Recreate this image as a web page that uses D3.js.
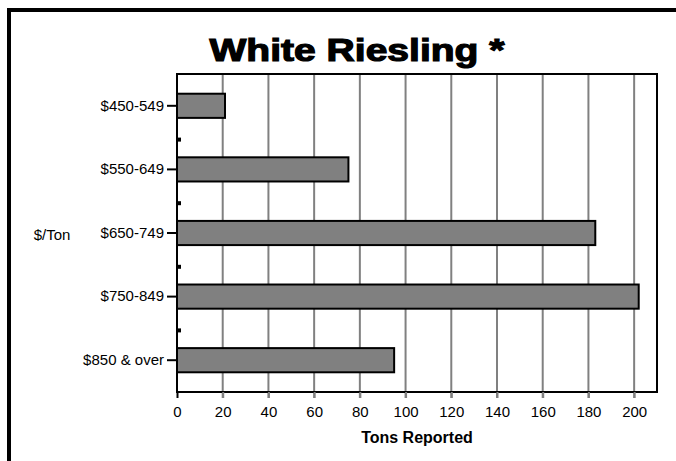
<!DOCTYPE html>
<html><head><meta charset="utf-8">
<script src="https://cdn.jsdelivr.net/npm/d3@7"></script>
<style>body{margin:0;background:#fff}svg{display:block}</style>
</head><body>
<script>
const categories = ["$450-549", "$550-649", "$650-749", "$750-849", "$850 & over"];
const tonsReported = [21, 75, 183, 202, 95];
const xTicks = [0, 20, 40, 60, 80, 100, 120, 140, 160, 180, 200];
const titleText = "White Riesling *";
const xTitle = "Tons Reported";
const yTitle = "$/Ton";

const W = 676, H = 461;
const m = {left: 177, right: 19, top: 74, bottom: 69};
const svg = d3.select("body").append("svg").attr("width", W).attr("height", H);

// outer frame (right/bottom cut off)
svg.append("path").attr("d", `M9,${H+5} L9,10 L${W+5},10`)
  .attr("fill", "none").attr("stroke", "#000").attr("stroke-width", 4);

const x = d3.scaleLinear().domain([0, 210]).range([m.left, W - m.right]);
const y = d3.scaleBand().domain(categories).range([m.top, H - m.bottom])
  .paddingInner(0.62).paddingOuter(0.31);

// gridlines (extend below axis as ticks)
svg.append("g").selectAll("line").data(xTicks.filter(d => d > 0)).join("line")
  .attr("x1", d => x(d)).attr("x2", d => x(d))
  .attr("y1", m.top).attr("y2", H - m.bottom + 6)
  .attr("stroke", "#808080").attr("stroke-width", 2);

// bars
svg.append("g").selectAll("rect").data(categories).join("rect")
  .attr("x", x(0)).attr("y", d => y(d))
  .attr("width", (d, i) => x(tonsReported[i]) - x(0))
  .attr("height", y.bandwidth())
  .attr("fill", "#808080").attr("stroke", "#000").attr("stroke-width", 2);

// plot frame
svg.append("rect").attr("x", m.left).attr("y", m.top)
  .attr("width", W - m.right - m.left).attr("height", H - m.bottom - m.top)
  .attr("fill", "none").attr("stroke", "#000").attr("stroke-width", 2);

// x axis
const xAxis = d3.axisBottom(x).tickValues(xTicks).tickSize(6).tickPadding(8);
const gx = svg.append("g").attr("transform", `translate(0,${H - m.bottom})`).call(xAxis);
gx.select(".domain").remove();
gx.selectAll(".tick line").attr("stroke", d => d === 0 ? "#000" : "#808080").attr("stroke-width", 2);
gx.selectAll(".tick text").attr("font-family", "Liberation Sans, Arial, sans-serif")
  .attr("font-size", 15).attr("fill", "#000");

// y axis
const yAxis = d3.axisLeft(y).tickSize(10).tickPadding(3);
const gy = svg.append("g").attr("transform", `translate(${m.left},0)`).call(yAxis);
gy.select(".domain").remove();
gy.selectAll(".tick line").attr("stroke", "#000").attr("stroke-width", 2);
gy.selectAll(".tick text").attr("font-family", "Liberation Sans, Arial, sans-serif")
  .attr("font-size", 15).attr("fill", "#000");

// minor ticks between categories
svg.append("g").selectAll("rect").data(categories.slice(0, -1)).join("rect")
  .attr("x", m.left).attr("y", d => y(d) + y.bandwidth() / 2 + y.step() / 2)
  .attr("width", 4).attr("height", 4).attr("fill", "#000");

// titles
svg.append("text").attr("x", 357).attr("y", 61).attr("text-anchor", "middle")
  .attr("font-family", "Liberation Sans, Arial, sans-serif").attr("font-weight", "bold")
  .attr("font-size", 32).attr("textLength", 295).attr("lengthAdjust", "spacingAndGlyphs")
  .attr("stroke", "#000").attr("stroke-width", 1.2)
  .text(titleText);

svg.append("text").attr("x", x(105)).attr("y", 443).attr("text-anchor", "middle")
  .attr("font-family", "Liberation Sans, Arial, sans-serif").attr("font-weight", "bold")
  .attr("font-size", 16).text(xTitle);

svg.append("text").attr("x", 52).attr("y", 240).attr("text-anchor", "middle")
  .attr("font-family", "Liberation Sans, Arial, sans-serif")
  .attr("font-size", 15).text(yTitle);
</script>
</body></html>
